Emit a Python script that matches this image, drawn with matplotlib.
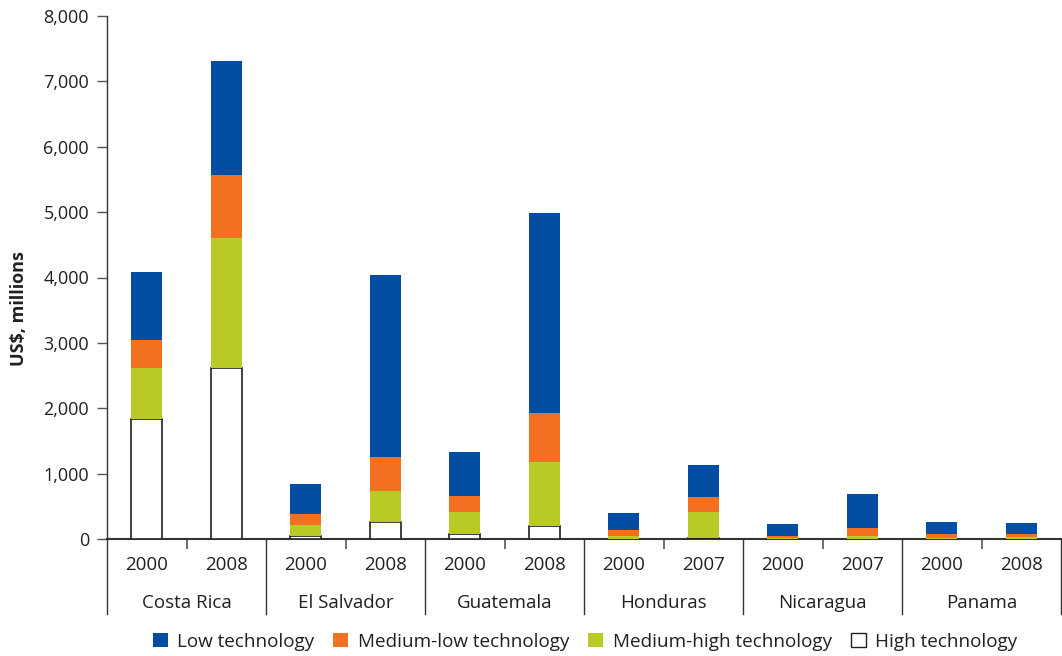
import numpy as np
import matplotlib.pyplot as plt
from matplotlib.patches import Patch

plt.rcParams['font.family'] = ['Open Sans', 'DejaVu Sans']

countries = ['Costa Rica', 'El Salvador', 'Guatemala', 'Honduras', 'Nicaragua', 'Panama']
years = ['2000', '2008', '2000', '2008', '2000', '2008',
         '2000', '2007', '2000', '2007', '2000', '2008']

# US$ millions, stacked bottom to top
high_tech = [1830, 2610, 45, 260, 75, 200, 5, 15, 0, 5, 5, 5]
med_high = [785, 1995, 175, 475, 340, 980, 45, 400, 10, 40, 15, 30]
med_low = [430, 965, 155, 520, 245, 750, 95, 230, 35, 125, 60, 45]
low_tech = [1040, 1745, 470, 2785, 670, 3060, 260, 490, 185, 520, 185, 165]

c_low = '#034ea2'
c_ml = '#f37021'
c_mh = '#b9c925'
txt = '#231f20'

fig = plt.figure(figsize=(10.62, 6.56), dpi=100)
ax = fig.add_axes([107 / 1062, 117 / 656, 954 / 1062, 523 / 656])

x = np.arange(len(years)) + 0.5
w = 0.39
b1 = np.array(high_tech)
b2 = b1 + np.array(med_high)
b3 = b2 + np.array(med_low)

ax.bar(x, high_tech, w, color='white', edgecolor=txt, linewidth=1.2, zorder=3)
ax.bar(x, med_high, w, bottom=b1, color=c_mh, zorder=3)
ax.bar(x, med_low, w, bottom=b2, color=c_ml, zorder=3)
ax.bar(x, low_tech, w, bottom=b3, color=c_low, zorder=3)

ax.set_xlim(0, len(years))
ax.set_ylim(0, 8000)
ax.set_yticks(np.arange(0, 8001, 1000))
ax.set_yticklabels([f'{v:,}' for v in range(0, 8001, 1000)], fontsize=13, color=txt)
ax.tick_params(axis='y', length=7, width=1, color='#555555', pad=6)

# short ticks at group centres
ax.set_xticks(np.arange(1, len(years), 2))
ax.set_xticklabels([])
ax.tick_params(axis='x', length=7, width=1.2, color='#555555')

for s in ['top', 'right']:
    ax.spines[s].set_visible(False)
ax.spines['left'].set_color('#333333')
ax.spines['bottom'].set_color('#333333')
ax.spines['left'].set_linewidth(1)
ax.spines['bottom'].set_linewidth(1.5)
ax.spines['left'].set_bounds(0, 8000)

trans = ax.get_xaxis_transform()
for gx in range(0, len(years) + 1, 2):
    ax.plot([gx, gx], [0, -0.143], transform=trans, color='#333333', lw=1, clip_on=False)

for xi, yr in zip(x, years):
    ax.text(xi, -0.05, yr, transform=trans, ha='center', va='center', fontsize=13.5, color=txt)
for i, c in enumerate(countries):
    ax.text(2 * i + 1, -0.122, c, transform=trans, ha='center', va='center', fontsize=13.5, color=txt)

ax.set_ylabel('US$, millions', fontsize=13, fontweight='bold', color=txt)
ax.yaxis.set_label_coords(-0.083, 0.44)

handles = [Patch(facecolor=c_low, label='Low technology'),
           Patch(facecolor=c_ml, label='Medium-low technology'),
           Patch(facecolor=c_mh, label='Medium-high technology'),
           Patch(facecolor='white', edgecolor=txt, linewidth=1, label='High technology')]
fig.legend(handles=handles, loc='center', bbox_to_anchor=(0.551, 0.022), ncol=4, frameon=False,
           fontsize=13.6, handlelength=0.8, handleheight=0.8, handletextpad=0.5, columnspacing=1.0,
           labelcolor=txt)

fig.savefig('out.png', dpi=100)
